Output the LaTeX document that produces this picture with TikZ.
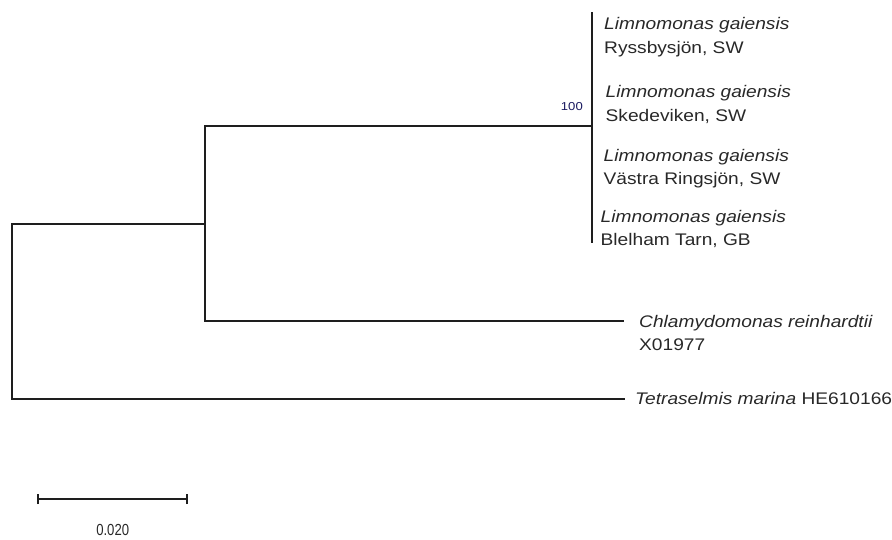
\documentclass[tikz,border=0pt]{standalone}
\usepackage{fontspec}
\setmainfont{Liberation Sans}[FakeStretch=1.14]
\newfontfamily\scalefont{Liberation Sans}[FakeStretch=0.82]
\definecolor{txtcol}{RGB}{40,40,40}
\definecolor{linecol}{RGB}{30,30,30}
\definecolor{bootcol}{RGB}{25,25,95}
\begin{document}
\begin{tikzpicture}[x=1pt,y=-1pt,
  branch/.style={draw=linecol,line width=1.6pt,line cap=rect},
  thinbranch/.style={draw=linecol,line width=1.1pt},
  leaf/.style={anchor=base west,inner sep=0pt,text=txtcol,font=\fontsize{16.8}{24}\selectfont},
  boot/.style={anchor=base east,inner sep=0pt,text=bootcol,font=\fontsize{11.5}{12}\selectfont},
  scalelbl/.style={anchor=base,inner sep=0pt,text=txtcol,font=\scalefont\fontsize{16}{18}\selectfont}]
\useasboundingbox (0,0) rectangle (892,539);
% tree nodes
\coordinate (rootT) at (12,224);
\coordinate (rootB) at (12,399);
\coordinate (n2) at (205,224);
\coordinate (n2T) at (205,126);
\coordinate (n2B) at (205,321);
\coordinate (clade) at (592,126);
\coordinate (cladeT) at (592,12);
\coordinate (cladeB) at (592,243);
\coordinate (chlEnd) at (623,321);
\coordinate (tetEnd) at (624,399);
% root
\draw[branch] (rootT) -- (rootB);
\draw[branch] (rootT) -- (n2);
\draw[branch] (rootB) -- (tetEnd);
% inner node
\draw[branch] (n2T) -- (n2B);
\draw[branch] (n2T) -- (clade);
\draw[branch] (n2B) -- (chlEnd);
% Limnomonas clade
\draw[thinbranch] (cladeT) -- (cladeB);
% labels
\node[boot] (bs) at (583,110.7) {100};
\node[leaf] (l1a) at (604,29.3) {\itshape Limnomonas gaiensis};
\node[leaf] (l1b) at (604,53.3) {Ryssbysjön, SW};
\node[leaf] (l2a) at (605.5,97.3) {\itshape Limnomonas gaiensis};
\node[leaf] (l2b) at (605.5,121.5) {Skedeviken, SW};
\node[leaf] (l3a) at (603.5,161) {\itshape Limnomonas gaiensis};
\node[leaf] (l3b) at (603.5,184.5) {Västra Ringsjön, SW};
\node[leaf] (l4a) at (600.5,222.7) {\itshape Limnomonas gaiensis};
\node[leaf] (l4b) at (600.5,245.5) {Blelham Tarn, GB};
\node[leaf] (chla) at (639,327) {\itshape Chlamydomonas reinhardtii};
\node[leaf] (chlb) at (639,350.5) {X01977};
\node[leaf] (tet) at (635,404.5) {\itshape Tetraselmis marina\upshape{} HE610166};
% scale bar
\coordinate (sbL) at (38,499);
\coordinate (sbR) at (187,499);
\draw[draw=linecol,line width=1.4pt] (sbL) -- (sbR);
\draw[draw=linecol,line width=1.4pt] ([yshift=-5pt]sbL) -- ([yshift=5pt]sbL);
\draw[draw=linecol,line width=1.4pt] ([yshift=-5pt]sbR) -- ([yshift=5pt]sbR);
\node[scalelbl] (sbt) at (112.7,535.5) {0.020};
\end{tikzpicture}
\end{document}
